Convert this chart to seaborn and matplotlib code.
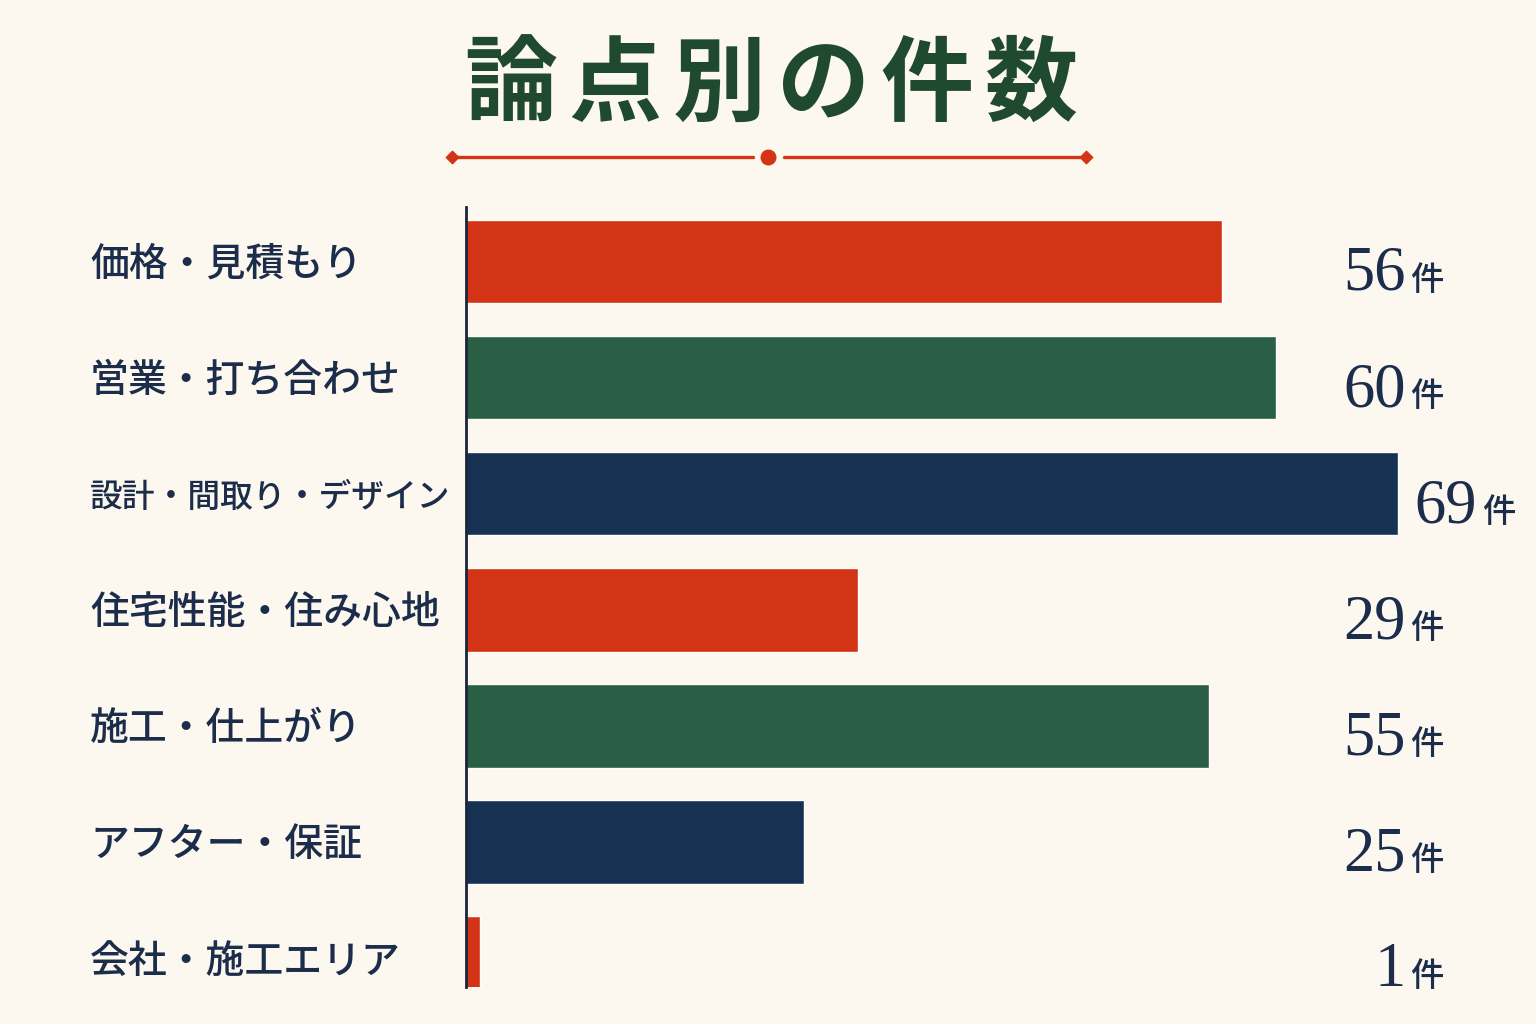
import pandas as pd
import numpy as np
import matplotlib.pyplot as plt
import matplotlib.transforms as mtransforms
import seaborn as sns

sns.set_theme(style='white')
plt.rcParams['font.family'] = ['Noto Sans CJK JP', 'DejaVu Sans']

# データ
categories = ['価格・見積もり', '営業・打ち合わせ', '設計・間取り・デザイン',
              '住宅性能・住み心地', '施工・仕上がり', 'アフター・保証', '会社・施工エリア']
counts = [56, 60, 69, 29, 55, 25, 1]
title = '論点別の件数'
unit = '件'

bg = '#FCF8F0'
red = '#D33415'
green = '#2A5E45'
navy = '#163152'
palette = [red, green, navy, red, green, navy, red]
text_navy = '#1B2D4A'
title_green = '#1F4A30'

df = pd.DataFrame({'category': categories, 'count': counts})

fig = plt.figure(figsize=(15.36, 10.24), dpi=100, facecolor=bg)
W, H = 1536, 1024
ax = fig.add_axes([466 / W, 37 / H, (1500 - 466) / W, 780 / H])
ax.set_facecolor(bg)

sns.barplot(data=df, y='category', x='count', hue='category', palette=palette,
            orient='h', width=0.72, legend=False, ax=ax, saturation=1)

ax.set_xlim(0, (1500 - 466) / 13.5)
ax.set_ylim(6.25, -0.47)
for s in ['top', 'right', 'bottom']:
    ax.spines[s].set_visible(False)
ax.spines['left'].set_color('#1A2438')
ax.spines['left'].set_linewidth(2)
ax.set_xticks([])
ax.set_yticks([])
ax.set_xlabel('')
ax.set_ylabel('')

# カテゴリラベル（左側）
trans = mtransforms.blended_transform_factory(fig.transFigure, ax.transData)
for i, cat in enumerate(categories):
    fs = min(28, 360 / len(cat) * 0.72)
    ax.text(90 / W, i + 0.03, cat, transform=trans, ha='left', va='center',
            fontsize=fs, color=text_navy, fontweight='medium')

# 件数ラベル
for i, v in enumerate(counts):
    num_right = max(69.6, v + 5.9)
    ax.text(num_right, i + 0.245, str(v), ha='right', va='baseline',
            fontsize=45, color=text_navy, family=['Liberation Serif', 'DejaVu Serif'],
            clip_on=False)
    ax.text(num_right + 0.35, i + 0.245, unit, ha='left', va='baseline',
            fontsize=24, color=text_navy, fontweight='medium', clip_on=False)

# タイトル（文字間を広めに）
step = 104
x0 = 771 - step * (len(title) - 1) / 2
for k, ch in enumerate(title):
    fig.text((x0 + k * step) / W, 1 - 86 / H, ch, ha='center', va='center',
             fontsize=67, color=title_green, fontweight='semibold')

# タイトル下の飾り線
deco = fig.add_axes([0, 0, 1, 1], facecolor='none')
deco.set_xlim(0, W)
deco.set_ylim(H, 0)
deco.axis('off')
deco.plot([456, 753], [157, 157], color=red, lw=2.4, solid_capstyle='round')
deco.plot([784, 1082], [157, 157], color=red, lw=2.4, solid_capstyle='round')
deco.scatter([768], [157], s=110, color=red, zorder=3)
deco.scatter([452, 1086], [157, 157], s=40, color=red, marker='D', zorder=3)

fig.savefig('out.png', dpi=100, facecolor=bg)
